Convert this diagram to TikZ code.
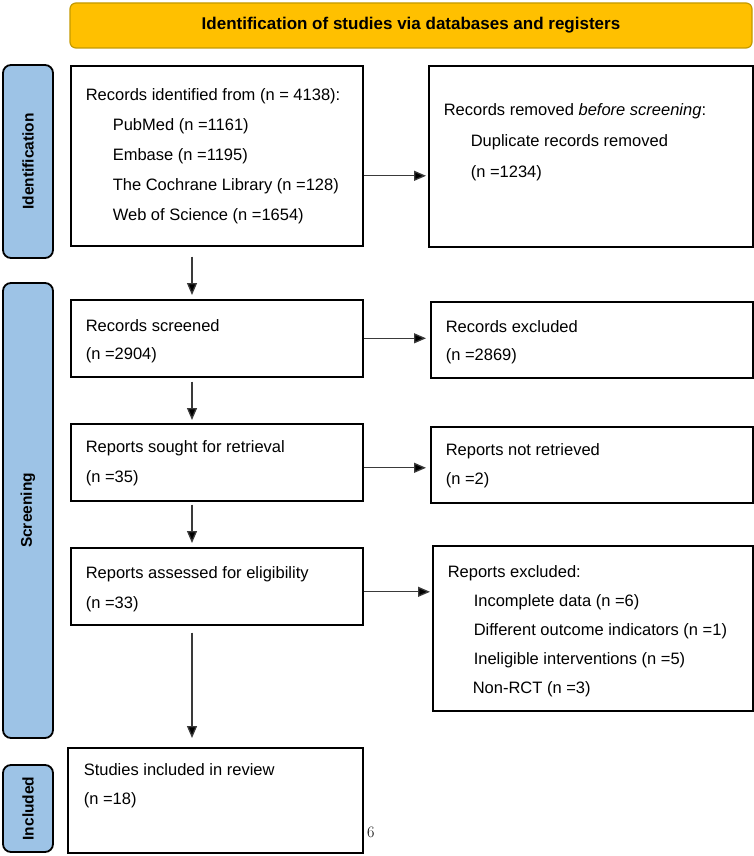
\documentclass[tikz,border=0pt]{standalone}
\usepackage{fontspec}
\newfontfamily\arial{Liberation Sans}
\usetikzlibrary{arrows.meta}
\definecolor{hdr}{HTML}{FFC000}
\definecolor{hdrline}{HTML}{C49A00}
\definecolor{side}{HTML}{9DC3E6}
\definecolor{arrcol}{HTML}{3A3A3A}
\newcommand{\bxt}[4]{\parbox[c][#2pt][t]{#1pt}{\leftskip=15pt\baselineskip=#4pt\rule{0pt}{#3pt}\ignorespaces}}
\tikzset{
  boxnode/.style={draw=black, line width=1.6pt, inner sep=0pt, anchor=north west, fill=white,
    font=\arial\fontsize{16.5}{29}\selectfont},
  sidebar/.style={draw=black, line width=1.8pt, fill=side, rounded corners=8pt, inner sep=0pt,
    minimum height=50pt, rotate=90, font=\arial\bfseries\fontsize{15.5}{18}\selectfont},
  hdrbox/.style={draw=hdrline, line width=1.2pt, fill=hdr, rounded corners=6pt, inner sep=0pt,
    font=\arial\bfseries\fontsize{17}{20}\selectfont},
  arr/.style={draw=arrcol, line width=1.3pt, -{Triangle[length=12pt,width=10pt,fill=black]}}
}
\newcommand{\ind}{\hspace*{27pt}}
\begin{document}
\begin{tikzpicture}[x=1pt,y=-1pt]
\useasboundingbox (0,0) rectangle (754,856);
% header
\node[hdrbox, minimum width=682pt, minimum height=45pt] (hd) at (411,25.5)
  {Identification of studies via databases and registers};
% side bars
\node[sidebar, minimum width=193pt] (s1) at (28,161.5) {Identification};
\node[sidebar, minimum width=455pt] (s2) at (28,510.5) {Screening};
\node[sidebar, minimum width=87pt] (s3) at (28,808.5) {Included};
% boxes
\node[boxnode] (b1) at (70,65) {\parbox[c][180pt][t]{292pt}{\leftskip=15pt\baselineskip=30pt
  \rule{0pt}{35pt}Records identified from (n = 4138):\\
  \ind PubMed (n =1161)\\
  \ind Embase (n =1195)\\
  \ind The Cochrane Library (n =128)\\
  \ind Web of Science (n =1654)}};
\node[boxnode] (b2) at (428,65) {\parbox[c][181pt][t]{324pt}{\leftskip=15pt\baselineskip=31pt
  \rule{0pt}{50pt}Records removed \textit{before screening}:\\
  \ind Duplicate records removed\\
  \ind (n =1234)}};
\node[boxnode] (b3) at (70,299) {\parbox[c][77pt][t]{292pt}{\leftskip=15pt\baselineskip=28pt
  \rule{0pt}{32pt}Records screened\\
  (n =2904)}};
\node[boxnode] (b4) at (430,301) {\parbox[c][76pt][t]{322pt}{\leftskip=15pt\baselineskip=28pt
  \rule{0pt}{31pt}Records excluded\\
  (n =2869)}};
\node[boxnode] (b5) at (70,423) {\parbox[c][77pt][t]{292pt}{\leftskip=15pt\baselineskip=30pt
  \rule{0pt}{29pt}Reports sought for retrieval\\
  (n =35)}};
\node[boxnode] (b6) at (430,426) {\parbox[c][76pt][t]{322pt}{\leftskip=15pt\baselineskip=29pt
  \rule{0pt}{29pt}Reports not retrieved\\
  (n =2)}};
\node[boxnode] (b7) at (70,547) {\parbox[c][77pt][t]{292pt}{\leftskip=15pt\baselineskip=30pt
  \rule{0pt}{31pt}Reports assessed for eligibility\\
  (n =33)}};
\node[boxnode] (b8) at (432,545) {\parbox[c][165pt][t]{320pt}{\leftskip=15pt\baselineskip=29pt
  \rule{0pt}{32pt}Reports excluded:\\
  \hspace*{26pt}Incomplete data (n =6)\\
  \hspace*{26pt}Different outcome indicators (n =1)\\
  \hspace*{26pt}Ineligible interventions (n =5)\\
  \hspace*{25pt}Non-RCT (n =3)}};
\node[boxnode] (b9) at (67,747) {\parbox[c][105pt][t]{295pt}{\leftskip=16pt\baselineskip=29pt
  \rule{0pt}{28pt}Studies included in review\\
  (n =18)}};
% page number
\node[anchor=base west, inner sep=0pt, font=\fontsize{16}{16}\selectfont] (pg) at (367,837) {6};
% arrows
\coordinate (ax) at (192,0);
\draw[arr, shorten <=10pt, shorten >=4pt] (b1.south -| ax) -- (b3.north -| ax);
\draw[arr, shorten <=4pt, shorten >=3pt] (b3.south -| ax) -- (b5.north -| ax);
\draw[arr, shorten <=3pt, shorten >=4pt] (b5.south -| ax) -- (b7.north -| ax);
\draw[arr, shorten <=7pt, shorten >=9pt] (b7.south -| ax) -- (b9.north -| ax);
\draw[arr, shorten >=2pt] ([yshift=-20pt]b1.east) -- ([yshift=-20pt]b1.east -| b2.west);
\draw[arr, shorten >=4pt] (b3.east) -- (b3.east -| b4.west);
\draw[arr, shorten >=4pt] ([yshift=-5.5pt]b5.east) -- ([yshift=-5.5pt]b5.east -| b6.west);
\draw[arr, shorten >=2pt] ([yshift=-5.5pt]b7.east) -- ([yshift=-5.5pt]b7.east -| b8.west);
\end{tikzpicture}
\end{document}
